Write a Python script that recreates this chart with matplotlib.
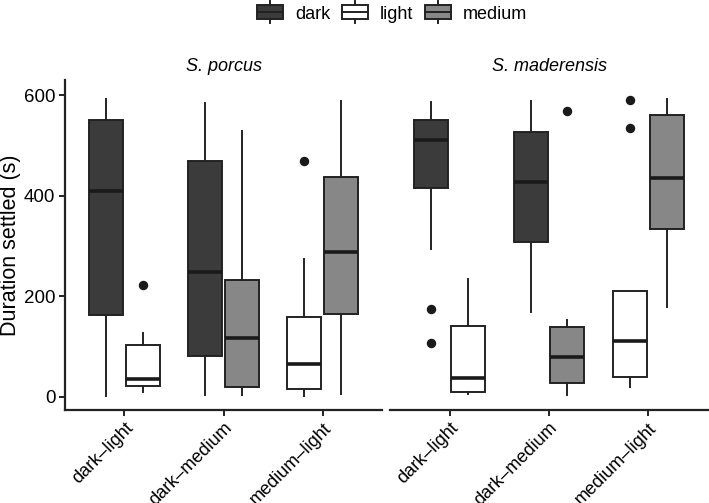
import matplotlib
matplotlib.use("Agg")
import matplotlib.pyplot as plt
from matplotlib.legend_handler import HandlerBase
from matplotlib.patches import Rectangle, Patch
from matplotlib.lines import Line2D

plt.rcParams['font.family'] = ['Liberation Sans', 'DejaVu Sans']

# Data (box stats per box, seconds)
species = ["S. porcus", "S. maderensis"]
pairs = ["dark\u2013light", "dark\u2013medium", "medium\u2013light"]
fill_levels = ["dark", "light", "medium"]
fill_colours = {"dark": "#3b3b3b", "light": "#ffffff", "medium": "#878787"}

box_species = [0, 0, 0, 0, 0, 0, 1, 1, 1, 1, 1, 1]
box_pair = [0, 0, 1, 1, 2, 2, 0, 0, 1, 1, 2, 2]
box_fill = ["dark", "light", "dark", "medium", "light", "medium",
            "dark", "light", "dark", "medium", "light", "medium"]
whislo = [2, 9, 3, 3, 2, 5, 294, 5, 169, 4, 19, 179]
q1 = [162, 22, 80, 19, 15, 165, 415, 9, 307, 27, 40, 334]
med = [409, 35, 249, 116, 65, 287, 510, 37, 427, 78, 111, 436]
q3 = [551, 102, 469, 233, 159, 437, 551, 140, 526, 139, 210, 561]
whishi = [593, 126, 585, 528, 274, 588, 587, 234, 589, 153, 210, 592]
fliers = [[], [223], [], [], [469], [], [174, 106], [], [], [569], [591, 535], []]

W, H = 709, 503
fig = plt.figure(figsize=(W / 100, H / 100), dpi=100)
ax_l = fig.add_axes([65 / W, 1 - 410 / H, 317 / W, 330 / H])
ax_r = fig.add_axes([390 / W, 1 - 410 / H, 318 / W, 330 / H])
axes = [ax_l, ax_r]

edge = "#222222"
lw = 1.4
dodge = 0.185
bw = 0.34

for s, ax in enumerate(axes):
    idx = [i for i in range(len(box_species)) if box_species[i] == s]
    stats, pos, cols = [], [], []
    for i in idx:
        # position within the pair follows the order of the fill levels
        same = [j for j in idx if box_pair[j] == box_pair[i]]
        same.sort(key=lambda j: fill_levels.index(box_fill[j]))
        off = -dodge if same.index(i) == 0 else dodge
        pos.append(box_pair[i] + 1 + off)
        stats.append(dict(whislo=whislo[i], q1=q1[i], med=med[i], q3=q3[i],
                          whishi=whishi[i], fliers=fliers[i]))
        cols.append(fill_colours[box_fill[i]])
    art = ax.bxp(stats, positions=pos, widths=bw, showcaps=False,
                 patch_artist=True, manage_ticks=False,
                 boxprops=dict(edgecolor=edge, linewidth=lw),
                 medianprops=dict(color="#1a1a1a", linewidth=2.6),
                 whiskerprops=dict(color=edge, linewidth=lw),
                 flierprops=dict(marker='o', markerfacecolor="#1a1a1a",
                                 markeredgecolor="#1a1a1a", markersize=5.8,
                                 linestyle='none'))
    for b, c in zip(art['boxes'], cols):
        b.set_facecolor(c)

    ax.set_xlim(0.4, 3.6)
    ax.set_ylim(-26.5, 630)
    ax.set_xticks([1, 2, 3])
    ax.set_xticklabels(pairs, rotation=45, ha='right', va='top',
                       rotation_mode='anchor', fontsize=13)
    ax.set_yticks([0, 200, 400, 600])
    ax.tick_params(length=4, width=lw, color=edge, labelsize=13.5,
                   labelcolor="black", pad=3)
    ax.tick_params(axis='x', labelsize=13)
    for sp in ["top", "right"]:
        ax.spines[sp].set_visible(False)
    for sp in ["left", "bottom"]:
        ax.spines[sp].set_linewidth(1.6)
        ax.spines[sp].set_color(edge)
    ax.text(0.5, 1 + 13 / 330, species[s], transform=ax.transAxes,
            ha='center', va='center', fontsize=13, style='italic')

ax_r.spines["left"].set_visible(False)
ax_r.tick_params(axis='y', left=False, labelleft=False)
ax_l.set_ylabel("Duration settled (s)", fontsize=15.5, labelpad=2)


class BoxKey(HandlerBase):
    def create_artists(self, legend, orig_handle, xdescent, ydescent,
                       width, height, fontsize, trans):
        x0, y0 = -xdescent, -ydescent
        rect = Rectangle((x0, y0), width, height,
                         facecolor=orig_handle.get_facecolor(),
                         edgecolor=edge, linewidth=lw, transform=trans)
        xm = x0 + width / 2
        mid = Line2D([x0, x0 + width], [y0 + height / 2] * 2, color=edge,
                     linewidth=lw, transform=trans)
        up = Line2D([xm, xm], [y0 + height, y0 + height * 1.3], color=edge,
                    linewidth=lw, transform=trans)
        dn = Line2D([xm, xm], [y0, y0 - height * 0.3], color=edge,
                    linewidth=lw, transform=trans)
        return [rect, mid, up, dn]


handles = [Patch(facecolor=fill_colours[f]) for f in fill_levels]
fig.legend(handles, fill_levels, handler_map={Patch: BoxKey()},
           loc='center', bbox_to_anchor=(392 / W, 1 - 14 / H), ncol=3,
           frameon=False, fontsize=13, handlelength=1.45, handleheight=0.8,
           handletextpad=0.65, columnspacing=0.65, borderpad=0)

fig.savefig("out.png", dpi=100)
